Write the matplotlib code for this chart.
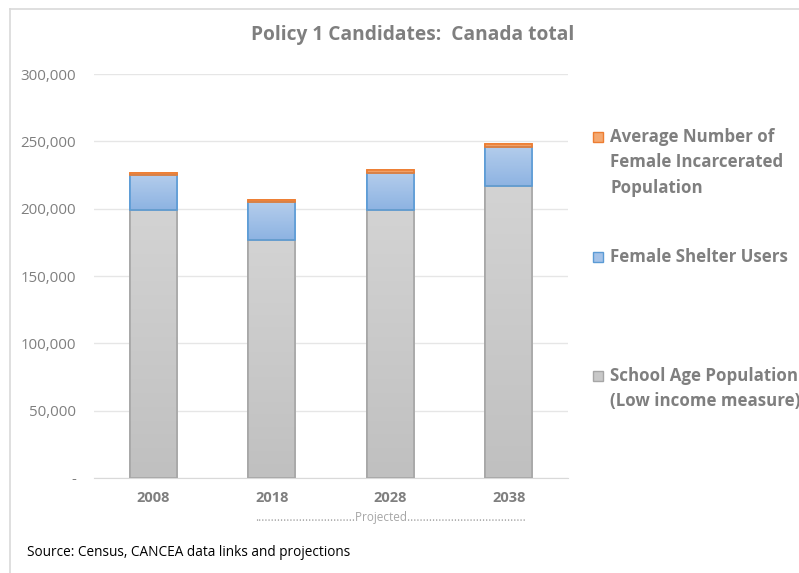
import matplotlib
matplotlib.use("Agg")
import matplotlib.pyplot as plt
import numpy as np
from matplotlib.colors import LinearSegmentedColormap
from matplotlib.lines import Line2D

years = ["2008", "2018", "2028", "2038"]
school_age = [199000, 177000, 199000, 216500]
shelter = [26000, 27600, 27500, 29500]
incarcerated = [1700, 1700, 2200, 1800]
series_labels = ["School Age Population\n(Low income measure)",
                 "Female Shelter Users",
                 "Average Number of\nFemale Incarcerated\nPopulation"]
yticks = [0, 50000, 100000, 150000, 200000, 250000, 300000]
ytick_labels = ["-", "50,000", "100,000", "150,000", "200,000", "250,000", "300,000"]

plt.rcParams['font.family'] = ['Open Sans', 'DejaVu Sans']

fig = plt.figure(figsize=(7.99, 5.73), dpi=100)
ax = fig.add_axes([94/799, 1-478/573, (568-94)/799, (478-74)/573])

x = np.arange(len(years))
width = 0.40

styles = [
    (school_age, "#c8c8c8", "#a6a6a6", ("#d3d3d3", "#c0c0c0")),
    (shelter, "#a4c2e8", "#5b9bd5", ("#b4cdec", "#8db3e2")),
    (incarcerated, "#f4a870", "#ed7d31", ("#f6b98e", "#ed8a45")),
]
bottom = np.zeros(len(years))
handles = []
for (vals, face, edge, grad), lab in zip(styles, series_labels):
    bars = ax.bar(x, vals, width, bottom=bottom, color=face, edgecolor=edge,
                  linewidth=1.2, zorder=3)
    cmap = LinearSegmentedColormap.from_list("g", [grad[1], grad[0]])
    for b in bars:
        x0, y0 = b.get_x(), b.get_y()
        w, h = b.get_width(), b.get_height()
        im = ax.imshow(np.linspace(0, 1, 100).reshape(-1, 1), cmap=cmap,
                       extent=[x0, x0 + w, y0, y0 + h], origin="lower",
                       aspect="auto", zorder=3.5, interpolation="bicubic")
        im.set_clip_path(b)
        ax.add_patch(plt.Rectangle((x0, y0), w, h, fill=False, edgecolor=edge,
                                   linewidth=1.2, zorder=4))
    handles.append(plt.Rectangle((0, 0), 1, 1, facecolor=face, edgecolor=edge, linewidth=1))
    bottom = bottom + np.array(vals)

ax.set_xlim(-0.5, 3.5)
ax.set_ylim(0, 300000)
ax.set_yticks(yticks)
ax.set_yticklabels(ytick_labels, color="#7f7f7f", fontsize=10.8)
ax.set_xticks(x)
ax.set_xticklabels(years, color="#7f7f7f", fontsize=10.5, fontweight="bold")
ax.tick_params(axis="x", length=0, pad=9)
ax.tick_params(axis="y", length=0, pad=13)
ax.grid(axis="y", color="#e6e6e6", linewidth=1, zorder=0)
for s in ["top", "right", "left"]:
    ax.spines[s].set_visible(False)
ax.spines["bottom"].set_color("#d9d9d9")
ax.set_zorder(1)

fig.text(413/799, 1-35/573, "Policy 1 Candidates:  Canada total", ha="center", va="center",
         fontsize=13.8, fontweight="bold", color="#7f7f7f")

leg_items = [(2, 137), (1, 257), (0, 376)]
for idx, ypix in leg_items:
    h = handles[idx]
    fig.patches.append(plt.Rectangle((593/799, 1-(ypix+5)/573), 10/799, 10/573,
                                     facecolor=h.get_facecolor(), edgecolor=h.get_edgecolor(),
                                     linewidth=1, transform=fig.transFigure, figure=fig))
    fig.text(610/799, 1-(ypix - 9)/573, series_labels[idx], ha="left", va="top",
             fontsize=12.2, fontweight="bold", color="#7f7f7f", linespacing=1.52)

fig.text(391/799, 1-518/573,
         "................................Projected......................................",
         ha="center", va="center", fontsize=8.5, color="#a6a6a6")
fig.text(27/799, 1-553/573, "Source: Census, CANCEA data links and projections",
         ha="left", va="center", fontsize=9.8, color="#000000")

fig.add_artist(Line2D([10/799, 1], [1-9/573, 1-9/573], color="#d9d9d9", linewidth=1.2,
                      transform=fig.transFigure))
fig.add_artist(Line2D([10/799, 10/799], [0, 1-9/573], color="#d9d9d9", linewidth=1.2,
                      transform=fig.transFigure))

fig.savefig("out.png", dpi=100)
